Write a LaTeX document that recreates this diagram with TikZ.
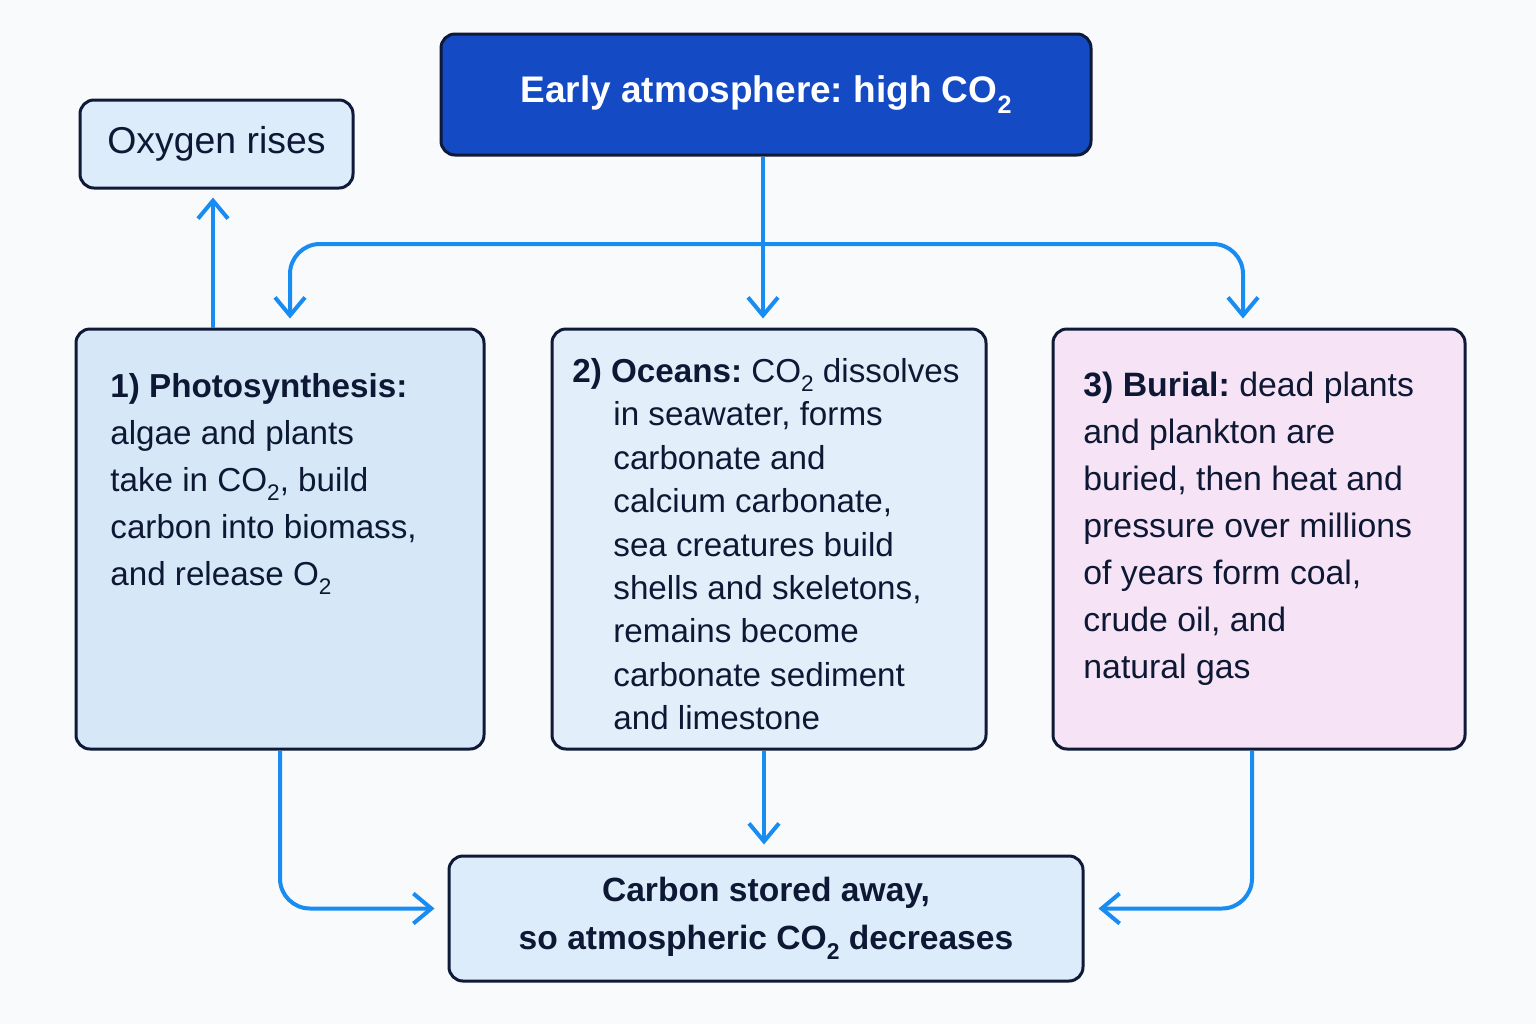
\documentclass[tikz,border=0pt]{standalone}
\usepackage{fontspec}
\usepackage{graphicx}
\setmainfont{Liberation Sans}
\usetikzlibrary{arrows.meta}
\newcommand\mysub[1]{\raisebox{-0.28em}{\scalebox{0.68}{#1}}}
\definecolor{bgc}{RGB}{249,250,252}
\definecolor{navy}{RGB}{14,26,56}
\definecolor{txt}{RGB}{14,24,52}
\definecolor{topfill}{RGB}{20,74,196}
\definecolor{lb1}{RGB}{214,232,248}
\definecolor{lb2}{RGB}{226,238,250}
\definecolor{lb3}{RGB}{220,236,250}
\definecolor{pinkc}{RGB}{246,228,246}
\definecolor{arrowc}{RGB}{24,140,240}
\frenchspacing
\begin{document}
\begin{tikzpicture}[x=0.5pt,y=-0.5pt,
  box/.style={draw=navy, line width=1.5pt, rounded corners=7pt, inner sep=0pt},
  bodytext/.style={anchor=north west, inner sep=0pt, align=left, text=txt},
  arr/.style={draw=arrowc, line width=2pt, -{Straight Barb[length=9pt,width=15pt]}, rounded corners=15pt}]
\fill[bgc] (0,0) rectangle (1536,1024);
\useasboundingbox (0,0) rectangle (1536,1024);
% boxes
\node[box, fill=topfill, minimum width=325pt, minimum height=60.5pt,
  text=white, font={\fontsize{18.5pt}{22pt}\selectfont\bfseries}] (top) at (766,94.5) {Early atmosphere: high CO\mysub{2}};
\node[box, fill=lb3, minimum width=136.5pt, minimum height=44pt,
  text=txt, font={\fontsize{18.7pt}{22pt}\selectfont}] (oxy) at (216.5,144) {Oxygen rises};
\node[box, fill=lb1, minimum width=204pt, minimum height=210pt] (b1) at (280,539) {};
\node[box, fill=lb2, minimum width=217pt, minimum height=210pt] (b2) at (769,539) {};
\node[box, fill=pinkc, minimum width=206pt, minimum height=210pt] (b3) at (1259,539) {};
\node[box, fill=lb3, minimum width=317pt, minimum height=62.5pt, align=center,
  text=txt, font={\fontsize{16.8pt}{24pt}\selectfont\bfseries}] (bot) at (766,918.5)
  {Carbon stored away,\\so atmospheric CO\mysub{2} decreases};
% texts
\node[bodytext, font={\fontsize{16.6pt}{23.5pt}\selectfont}] (t1) at (110,373)
  {\textbf{1) Photosynthesis:}\\algae and plants\\take in CO\mysub{2}, build\\carbon into biomass,\\and release O\mysub{2}};
\node[bodytext, font={\fontsize{16.6pt}{21.7pt}\selectfont}] (t2) at (572,358)
  {\textbf{2) Oceans:} CO\mysub{2} dissolves\\
   \hspace*{20.5pt}in seawater, forms\\
   \hspace*{20.5pt}carbonate and\\
   \hspace*{20.5pt}calcium carbonate,\\
   \hspace*{20.5pt}sea creatures build\\
   \hspace*{20.5pt}shells and skeletons,\\
   \hspace*{20.5pt}remains become\\
   \hspace*{20.5pt}carbonate sediment\\
   \hspace*{20.5pt}and limestone};
\node[bodytext, font={\fontsize{16.9pt}{23.5pt}\selectfont}] (t3) at (1083,372)
  {\textbf{3) Burial:} dead plants\\and plankton are\\buried, then heat and\\pressure over millions\\of years form coal,\\crude oil, and\\natural gas};
% connectors
\coordinate (j) at (763,244);
\draw[arr, shorten >=4.5pt] (top.south -| j) -- (j |- b2.north);
\draw[arr, shorten >=4.5pt] (j) -| ([xshift=5pt]b1.north);
\draw[arr, shorten >=4.5pt] (j) -| ([xshift=-8pt]b3.north);
\draw[arr, shorten >=4pt] ([xshift=-1.75pt]oxy.south |- b1.north) -- ([xshift=-1.75pt]oxy.south);
\draw[arr, shorten >=6.5pt] (b1.south) |- ([yshift=5pt]bot.west);
\draw[arr, shorten >=5pt] ([xshift=-2.5pt]b2.south) -- ([xshift=-2.5pt]b2.south |- bot.north);
\draw[arr, shorten >=7pt] ([xshift=-3.5pt]b3.south) |- ([yshift=5pt]bot.east);
\end{tikzpicture}
\end{document}
